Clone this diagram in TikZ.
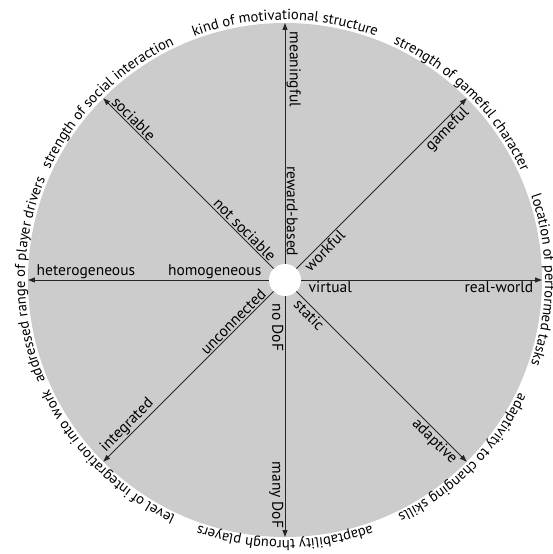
\documentclass[tikz,border=0pt]{standalone}
\usepackage{fontspec}
\setmainfont{PT Sans}
\usepackage{xcolor}
\usetikzlibrary{arrows.meta}
\usetikzlibrary{decorations.text}

\definecolor{discgray}{RGB}{204,204,204}
\newcommand{\rimfont}{\fontsize{14.6}{17}\selectfont}

\tikzset{
  axis/.style={->,>={Triangle[length=7pt,width=5pt]},line width=0.9pt,black!85},
  pole/.style={font=\fontsize{15.5}{18}\selectfont,inner sep=1.5pt},
  rimtitle/.style={decorate,decoration={text along path,text align=center,text={|\rimfont|#1}}}
}

\begin{document}
\begin{tikzpicture}[x=1pt,y=1pt]
        \useasboundingbox (-285,-274) rectangle (267,280);
        \clip (-285,-274) rectangle (267,280);
        \fill[discgray] (0,0) circle (257);
        \node[circle,fill=white,minimum size=32pt,inner sep=0pt] (hub) at (0,0) {};
        % arrow ends on the rim
        \coordinate (tipN) at (90:257);
        \coordinate (tipNE) at (45:257);
        \coordinate (tipE) at (0:257);
        \coordinate (tipSE) at (-45:257);
        \coordinate (tipS) at (-90:257);
        \coordinate (tipSW) at (-135:257);
        \coordinate (tipW) at (180:257);
        \coordinate (tipNW) at (135:257);
        \draw[axis] (hub) -- (tipN);
        \draw[axis] (hub) -- (tipNE);
        \draw[axis] (hub) -- (tipE);
        \draw[axis] (hub) -- (tipSE);
        \draw[axis] (hub) -- (tipS);
        \draw[axis] (hub) -- (tipSW);
        \draw[axis] (hub) -- (tipW);
        \draw[axis] (hub) -- (tipNW);
        % poles of each axis
        \node[pole,rotate=-90,anchor=south west] (meaningful) at (90:250) {meaningful};
        \node[pole,rotate=-90,anchor=south east] (rewardbased) at (90:22) {reward-based};
        \node[pole,rotate=45,anchor=north east] (gameful) at (45:250) {gameful};
        \node[pole,rotate=45,anchor=north west] (workful) at (45:22) {workful};
        \node[pole,anchor=north east] (realworld) at (0:250) {real-world};
        \node[pole,anchor=north west] (virtual) at (0:22) {virtual};
        \node[pole,rotate=-45,anchor=north east] (adaptive) at (-45:250) {adaptive};
        \node[pole,rotate=-45,anchor=north west] (static) at (-45:22) {static};
        \node[pole,rotate=-90,anchor=north east] (manydof) at (-90:250) {many DoF};
        \node[pole,rotate=-90,anchor=north west] (nodof) at (-90:22) {no DoF};
        \node[pole,rotate=45,anchor=south west] (integrated) at (-135:250) {integrated};
        \node[pole,rotate=45,anchor=south east] (unconnected) at (-135:22) {unconnected};
        \node[pole,anchor=south west] (heterogeneous) at (180:250) {heterogeneous};
        \node[pole,anchor=south east] (homogeneous) at (180:22) {homogeneous};
        \node[pole,rotate=-45,anchor=south west] (sociable) at (135:250) {sociable};
        \node[pole,rotate=-45,anchor=south east] (notsociable) at (135:22) {not sociable};
        % titles round the rim
        \path[rimtitle={kind of motivational structure}] (160:260) arc[start angle=160,end angle=20,radius=260];
        \path[rimtitle={strength of gameful character}] (115:260) arc[start angle=115,end angle=-25,radius=260];
        \path[rimtitle={location of performed tasks}] (70:260) arc[start angle=70,end angle=-70,radius=260];
        \path[rimtitle={adaptivity to changing skills}] (25:260) arc[start angle=25,end angle=-115,radius=260];
        \path[rimtitle={adaptability through players}] (-20:260) arc[start angle=-20,end angle=-160,radius=260];
        \path[rimtitle={level of integration into work}] (-65:260) arc[start angle=-65,end angle=-205,radius=260];
        \path[rimtitle={addressed range of player drivers}] (250:260) arc[start angle=250,end angle=110,radius=260];
        \path[rimtitle={strength of social interaction}] (205:260) arc[start angle=205,end angle=65,radius=260];
    \end{tikzpicture}
\end{document}
